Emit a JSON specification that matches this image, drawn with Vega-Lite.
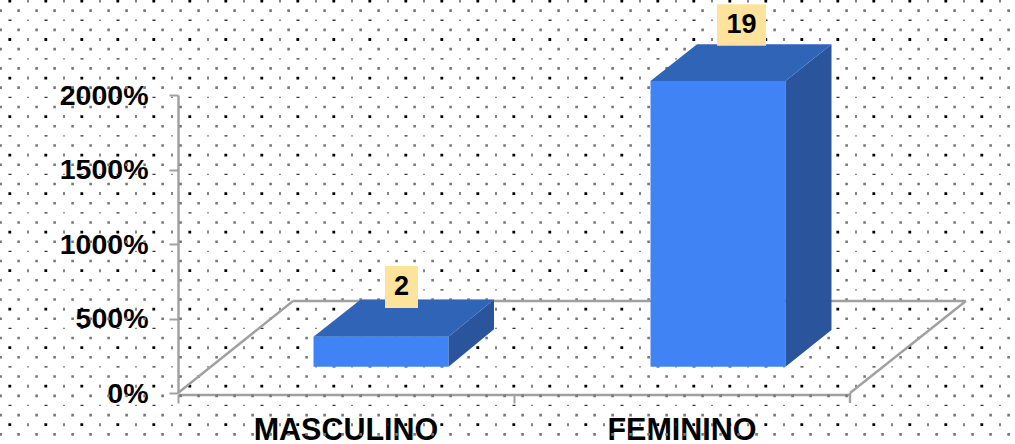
{
"$schema":"https://vega.github.io/schema/vega-lite/v6.json",
"width":672,"height":298,
"autosize":{"type":"none"},
"padding":{"left":178,"top":95,"right":165,"bottom":51},
"background":"white",
"config":{"view":{"stroke":null}},
"datasets":{
"rows":[{"row":0,"kind":"A"},{"row":1,"kind":"B"},{"row":2,"kind":"C"},{"row":3,"kind":"B"},{"row":4,"kind":"A"},{"row":5,"kind":"B"},{"row":6,"kind":"C"},{"row":7,"kind":"B"},{"row":8,"kind":"A"},{"row":9,"kind":"B"},{"row":10,"kind":"C"},{"row":11,"kind":"B"},{"row":12,"kind":"A"},{"row":13,"kind":"B"},{"row":14,"kind":"C"},{"row":15,"kind":"B"},{"row":16,"kind":"A"},{"row":17,"kind":"B"},{"row":18,"kind":"C"},{"row":19,"kind":"B"},{"row":20,"kind":"A"},{"row":21,"kind":"B"},{"row":22,"kind":"C"},{"row":23,"kind":"B"},{"row":24,"kind":"A"},{"row":25,"kind":"B"},{"row":26,"kind":"C"},{"row":27,"kind":"B"},{"row":28,"kind":"A"},{"row":29,"kind":"B"},{"row":30,"kind":"C"},{"row":31,"kind":"B"},{"row":32,"kind":"A"},{"row":33,"kind":"B"},{"row":34,"kind":"C"},{"row":35,"kind":"B"},{"row":36,"kind":"A"},{"row":37,"kind":"B"},{"row":38,"kind":"C"},{"row":39,"kind":"B"},{"row":40,"kind":"A"},{"row":41,"kind":"B"},{"row":42,"kind":"C"},{"row":43,"kind":"B"},{"row":44,"kind":"A"},{"row":45,"kind":"B"}],
"bars":[{"category":"MASCULINO","value":2,"u":0.6652,"v":7.114},{"category":"FEMININO","value":19,"u":1.6771,"v":24.70}],
"floor":[
{"edge":"back","u":0.3423,"v":6.174},{"edge":"back","u":2.345,"v":6.174},
{"edge":"left","u":0,"v":0},{"edge":"left","u":0.3423,"v":6.174},
{"edge":"right","u":2,"v":0},{"edge":"right","u":2.345,"v":6.174},
{"edge":"stub","u":2,"v":0},{"edge":"stub","u":2,"v":-0.67}],
"faces":[
{"bar":"M","face":"front","u":0.4033,"lo":1.765,"hi":3.779},{"bar":"M","face":"front","u":0.8051,"lo":1.765,"hi":3.779},
{"bar":"M","face":"side","u":0.8051,"lo":1.765,"hi":3.779},{"bar":"M","face":"side","u":0.9405,"lo":4.275,"hi":6.275},
{"bar":"M","face":"top","u":0.4033,"lo":3.779,"hi":3.779},{"bar":"M","face":"top","u":0.5438,"lo":3.779,"hi":6.275},{"bar":"M","face":"top","u":0.8051,"lo":3.779,"hi":6.275},{"bar":"M","face":"top","u":0.9405,"lo":6.275,"hi":6.275},
{"bar":"F","face":"front","u":1.4063,"lo":1.765,"hi":20.94},{"bar":"F","face":"front","u":1.808,"lo":1.765,"hi":20.94},
{"bar":"F","face":"side","u":1.808,"lo":1.765,"hi":20.94},{"bar":"F","face":"side","u":1.9449,"lo":4.228,"hi":23.40},
{"bar":"F","face":"top","u":1.4063,"lo":20.94,"hi":20.94},{"bar":"F","face":"top","u":1.5446,"lo":20.94,"hi":23.40},{"bar":"F","face":"top","u":1.808,"lo":20.94,"hi":23.40},{"bar":"F","face":"top","u":1.9449,"lo":23.40,"hi":23.40}],
"boxes":[
{"bar":"M","u":0.6161,"lo":5.705,"hi":8.523},{"bar":"M","u":0.7143,"lo":5.705,"hi":8.523},
{"bar":"F","u":1.6042,"lo":23.31,"hi":26.09},{"bar":"F","u":1.75,"lo":23.31,"hi":26.09}]
},
"resolve":{"scale":{"x":"independent","y":"independent"}},
"layer":[
{"data":{"name":"rows"},"transform":[{"filter":"datum.kind=='A'"}],"mark":{"type":"rule","color":"#000000","strokeWidth":2.8,"strokeDash":[2.8,33.2],"strokeDashOffset":27.6},
"encoding":{"x":{"datum":0,"type":"quantitative","scale":{"domain":[0,1],"range":[-178,837]},"axis":null},"x2":{"datum":1},"y":{"field":"row","type":"quantitative","scale":{"domain":[0,45],"range":[-94,339.35]},"axis":null}}},
{"data":{"name":"rows"},"transform":[{"filter":"datum.kind=='A'"}],"mark":{"type":"rule","color":"#333333","strokeWidth":3,"strokeDash":[1.2,34.8],"strokeDashOffset":8.6},
"encoding":{"x":{"datum":0,"type":"quantitative","scale":{"domain":[0,1],"range":[-178,837]},"axis":null},"x2":{"datum":1},"y":{"field":"row","type":"quantitative","scale":{"domain":[0,45],"range":[-94,339.35]},"axis":null}}},
{"data":{"name":"rows"},"transform":[{"filter":"datum.kind=='C'"}],"mark":{"type":"rule","color":"#333333","strokeWidth":1.3,"strokeDash":[3,33],"strokeDashOffset":27.5},
"encoding":{"x":{"datum":0,"type":"quantitative","scale":{"domain":[0,1],"range":[-178,837]},"axis":null},"x2":{"datum":1},"y":{"field":"row","type":"quantitative","scale":{"domain":[0,45],"range":[-94,339.35]},"axis":null}}},
{"data":{"name":"rows"},"transform":[{"filter":"datum.kind=='C'"}],"mark":{"type":"rule","color":"#444444","strokeWidth":1.3,"strokeDash":[1.3,34.7],"strokeDashOffset":8.65},
"encoding":{"x":{"datum":0,"type":"quantitative","scale":{"domain":[0,1],"range":[-178,837]},"axis":null},"x2":{"datum":1},"y":{"field":"row","type":"quantitative","scale":{"domain":[0,45],"range":[-94,339.35]},"axis":null}}},
{"data":{"name":"rows"},"transform":[{"filter":"datum.kind=='B'"}],"mark":{"type":"rule","color":"#777777","strokeWidth":2.6,"strokeDash":[2.6,15.4],"strokeDashOffset":0.7},
"encoding":{"x":{"datum":0,"type":"quantitative","scale":{"domain":[0,1],"range":[-178,837]},"axis":null},"x2":{"datum":1},"y":{"field":"row","type":"quantitative","scale":{"domain":[0,45],"range":[-94,339.35]},"axis":null}}},
{"data":{"name":"bars"},"mark":{"type":"bar","opacity":0},
"encoding":{
"x":{"field":"category","type":"nominal","sort":["MASCULINO","FEMININO"],"scale":{"paddingInner":0,"paddingOuter":0},
"axis":{"title":null,"labelAngle":0,"labelFont":"Liberation Sans","labelFontWeight":"bold","labelFontSize":30.5,"labelLimit":400,"labelColor":"#000000","labelPadding":12,"labelBaseline":"top","offset":1.5,"tickSize":8.5,"tickWidth":2,"tickColor":"#a0a0a0","domainColor":"#a0a0a0","domainWidth":2.4,"bandPosition":0,"labelOverlap":false,"labelBound":false,"labelFlush":false}},
"y":{"field":"value","type":"quantitative","scale":{"domain":[0,20],"nice":false},
"axis":{"title":null,"values":[0,5,10,15,20],"labelExpr":"datum.value*100+'%'","grid":false,"labelFont":"Liberation Sans","labelFontWeight":"bold","labelFontSize":28.5,"labelColor":"#000000","tickSize":9,"tickWidth":2,"tickColor":"#a0a0a0","domainColor":"#a0a0a0","domainWidth":2.4,"labelPadding":21}}}},
{"data":{"name":"floor"},"mark":{"type":"line","color":"#a0a0a0","strokeWidth":2.4},
"encoding":{"x":{"field":"u","type":"quantitative","scale":{"domain":[0,2],"nice":false,"zero":false},"axis":null},"y":{"field":"v","type":"quantitative","scale":{"domain":[0,20],"nice":false},"axis":null},"detail":{"field":"edge"}}},
{"data":{"name":"faces"},"mark":{"type":"area"},
"encoding":{"x":{"field":"u","type":"quantitative","scale":{"domain":[0,2],"nice":false,"zero":false},"axis":null},"y":{"field":"lo","type":"quantitative","scale":{"domain":[0,20],"nice":false},"axis":null},"y2":{"field":"hi"},"detail":{"field":"bar"},
"color":{"field":"face","type":"nominal","legend":null,"scale":{"domain":["front","side","top"],"range":["#4083f5","#2a549c","#3064b6"]}}}},
{"data":{"name":"boxes"},"mark":{"type":"area","color":"#fde39b"},
"encoding":{"x":{"field":"u","type":"quantitative","scale":{"domain":[0,2],"nice":false,"zero":false},"axis":null},"y":{"field":"lo","type":"quantitative","scale":{"domain":[0,20],"nice":false},"axis":null},"y2":{"field":"hi"},"detail":{"field":"bar"}}},
{"data":{"name":"bars"},"mark":{"type":"text","font":"Liberation Sans","fontWeight":"bold","fontSize":27,"color":"#000000","align":"center","baseline":"middle"},
"encoding":{"x":{"field":"u","type":"quantitative","scale":{"domain":[0,2],"nice":false,"zero":false},"axis":null},"y":{"field":"v","type":"quantitative","scale":{"domain":[0,20],"nice":false},"axis":null},"text":{"field":"value"}}}
]
}
